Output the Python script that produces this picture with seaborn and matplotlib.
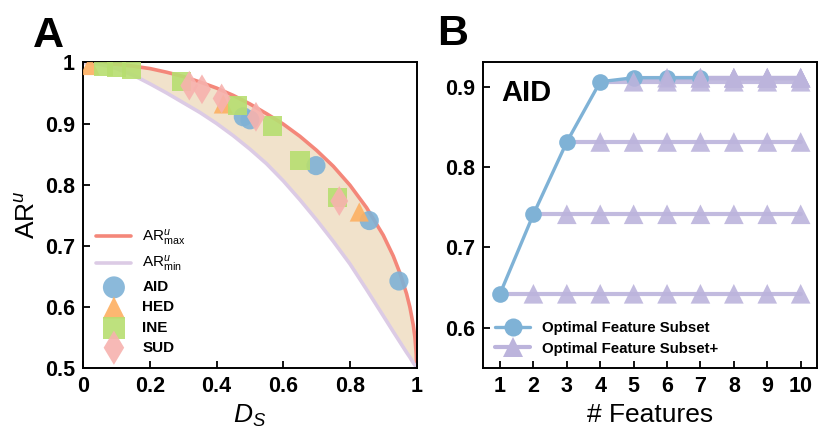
import matplotlib
matplotlib.use("Agg")
import matplotlib.pyplot as plt
from matplotlib.lines import Line2D
import numpy as np
import pandas as pd
import seaborn as sns

# ---- panel A: bound curves ----
d_curve = [0.0, 0.05, 0.1, 0.15, 0.2, 0.25, 0.3, 0.35, 0.4, 0.45, 0.5, 0.55, 0.6,
           0.65, 0.7, 0.75, 0.8, 0.85, 0.9, 0.93, 0.95, 0.97, 0.98, 0.99, 0.995, 0.999, 1.0]
ar_max = [1.0, 0.999, 0.997, 0.994, 0.990, 0.984, 0.977, 0.968, 0.958, 0.946, 0.932, 0.916, 0.899,
          0.879, 0.856, 0.830, 0.799, 0.762, 0.717, 0.683, 0.655, 0.621, 0.599, 0.570, 0.550, 0.522, 0.5]
ar_min = [1.0, 0.997, 0.990, 0.979, 0.965, 0.950, 0.934, 0.918, 0.900, 0.880, 0.858, 0.834, 0.806,
          0.775, 0.742, 0.707, 0.670, 0.628, 0.585, 0.559, 0.542, 0.525, 0.517, 0.508, 0.504, 0.501, 0.5]

# ---- panel A: dataset points ----
aid_d = [0.48, 0.50, 0.698, 0.858, 0.947]
aid_ar = [0.911, 0.906, 0.831, 0.741, 0.642]
hed_d = [0.02, 0.42, 0.828]
hed_ar = [0.995, 0.932, 0.755]
ine_d = [0.06, 0.10, 0.145, 0.295, 0.463, 0.568, 0.65, 0.763]
ine_ar = [0.993, 0.992, 0.989, 0.969, 0.929, 0.896, 0.84, 0.779]
sud_d = [0.318, 0.356, 0.415, 0.518, 0.768]
sud_ar = [0.962, 0.956, 0.941, 0.911, 0.773]

# ---- panel B ----
n_features = [1, 2, 3, 4, 5, 6, 7, 8, 9, 10]
subset_acc = [0.642, 0.741, 0.831, 0.906, 0.911, 0.911, 0.911]

palette = {"AID": "#7fb2d6", "HED": "#fdb062", "INE": "#b7de70", "SUD": "#f7b2ae"}
markers = {"AID": "o", "HED": "^", "INE": "s", "SUD": "d"}
red = "#f4877a"
lav_a = "#dccbe5"
fill_c = "#f1e2cb"
blue = "#7fb2d6"
lav_b = "#bcb4dc"

sns.set_style("ticks")
plt.rcParams["font.family"] = ["Liberation Sans", "DejaVu Sans"]
plt.rcParams["mathtext.fontset"] = "custom"
plt.rcParams["mathtext.rm"] = "Liberation Sans"
plt.rcParams["mathtext.it"] = "Liberation Sans:italic"
plt.rcParams["mathtext.bf"] = "Liberation Sans:bold"
for key in ("text.color", "axes.labelcolor", "xtick.color", "ytick.color", "axes.edgecolor"):
    plt.rcParams[key] = "black"

fig = plt.figure(figsize=(8.31, 4.43), dpi=100)
axA = fig.add_axes([0.1003, 0.170, 0.401, 0.689])
axB = fig.add_axes([0.5816, 0.170, 0.402, 0.689])

# panel A
axA.fill_between(d_curve, ar_min, ar_max, color=fill_c, lw=0, zorder=1)
sns.lineplot(x=d_curve, y=ar_max, ax=axA, color=red, lw=2.6, sort=False,
             label=r"AR$^{u}_{\mathrm{max}}$", zorder=2)
sns.lineplot(x=d_curve, y=ar_min, ax=axA, color=lav_a, lw=2.6, sort=False,
             label=r"AR$^{u}_{\mathrm{min}}$", zorder=2)

pts = pd.concat([
    pd.DataFrame({"D": aid_d, "AR": aid_ar, "dataset": "AID"}),
    pd.DataFrame({"D": hed_d, "AR": hed_ar, "dataset": "HED"}),
    pd.DataFrame({"D": ine_d, "AR": ine_ar, "dataset": "INE"}),
    pd.DataFrame({"D": sud_d, "AR": sud_ar, "dataset": "SUD"}),
], ignore_index=True)
for name, grp in pts.groupby("dataset", sort=True):
    sns.scatterplot(data=grp, x="D", y="AR", ax=axA, color=palette[name],
                    marker=markers[name], s=190 if name != "SUD" else 230,
                    edgecolor="none", alpha=0.9, label=name, zorder=3)

axA.set_xlim(0, 1)
axA.set_ylim(0.5, 1)
axA.set_xticks([0, 0.2, 0.4, 0.6, 0.8, 1.0])
axA.set_xticklabels(["0", "0.2", "0.4", "0.6", "0.8", "1"])
axA.set_yticks([0.5, 0.6, 0.7, 0.8, 0.9, 1.0])
axA.set_yticklabels(["0.5", "0.6", "0.7", "0.8", "0.9", "1"])
axA.set_xlabel(r"$D_S$", fontsize=19, labelpad=4)
axA.set_ylabel(r"AR$^{u}$", fontsize=19, labelpad=4)
legA = axA.legend(loc="lower left", frameon=False, fontsize=11, handlelength=2.3,
                  borderaxespad=0.45, labelspacing=0.4, handletextpad=0.7, markerscale=1.15)
for t in legA.get_texts()[2:]:
    t.set_fontweight("bold")

# panel B
for k in range(1, len(subset_acc) + 1):
    xs = n_features[k - 1:]
    ys = [subset_acc[k - 1]] * len(xs)
    sns.lineplot(x=xs, y=ys, ax=axB, color=lav_b, lw=3, alpha=0.9, zorder=2)
sns.lineplot(x=n_features[:len(subset_acc)], y=subset_acc, ax=axB, color=blue, lw=2.4,
             marker="o", markersize=12, markeredgewidth=0, zorder=3)
for k in range(1, len(subset_acc) + 1):
    xs = n_features[k:]
    ys = [subset_acc[k - 1]] * len(xs)
    sns.scatterplot(x=xs, y=ys, ax=axB, color=lav_b, marker="^", s=200,
                    edgecolor="none", alpha=0.9, zorder=4)

axB.set_xlim(0.5, 10.5)
axB.set_ylim(0.55, 0.93)
axB.set_xticks(n_features)
axB.set_yticks([0.6, 0.7, 0.8, 0.9])
axB.set_yticklabels(["0.6", "0.7", "0.8", "0.9"])
axB.set_xlabel("# Features", fontsize=19, labelpad=4)
axB.text(0.053, 0.90, "AID", transform=axB.transAxes, fontsize=21, fontweight="bold",
         va="center", ha="left")
handlesB = [
    Line2D([], [], color=blue, lw=2.4, marker="o", markersize=13, markeredgewidth=0),
    Line2D([], [], color=lav_b, lw=3, marker="^", markersize=14, markeredgewidth=0),
]
legB = axB.legend(handlesB, ["Optimal Feature Subset", "Optimal Feature Subset+"],
                  loc="lower left", frameon=False, fontsize=10.8, handlelength=2.3,
                  borderaxespad=0.4, labelspacing=0.45, handletextpad=0.8,
                  bbox_to_anchor=(0.0, 0.0))
for t in legB.get_texts():
    t.set_fontweight("bold")

for ax in (axA, axB):
    ax.tick_params(direction="in", length=5, width=1.3, labelsize=15.5, pad=6,
                   top=False, right=False, colors="black")
    for lab in ax.get_xticklabels() + ax.get_yticklabels():
        lab.set_fontweight("bold")
    for sp in ax.spines.values():
        sp.set_linewidth(1.4)
        sp.set_color("black")

fig.text(0.040, 0.895, "A", fontsize=31, fontweight="bold", va="baseline")
fig.text(0.5255, 0.898, "B", fontsize=31, fontweight="bold", va="baseline")

fig.savefig("out.png", dpi=100)
